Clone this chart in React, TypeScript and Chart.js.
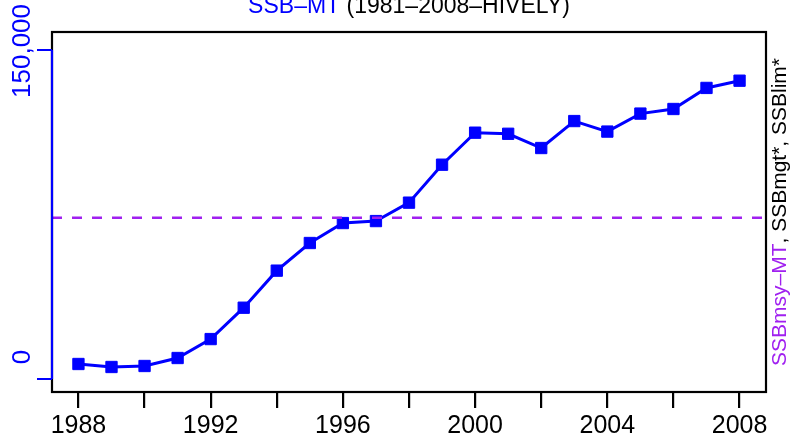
import React, { useEffect, useRef } from "react";
import { Chart, registerables } from "chart.js";

Chart.register(...registerables);

const YEARS = [1988, 1989, 1990, 1991, 1992, 1993, 1994, 1995, 1996, 1997, 1998, 1999, 2000, 2001, 2002, 2003, 2004, 2005, 2006, 2007, 2008];
const SSB_MT = [6840, 5470, 5930, 9570, 18200, 32500, 49400, 62000, 71100, 72000, 80400, 97700, 112300, 111800, 105300, 117600, 112800, 121000, 123100, 132700, 136000];
const SSB_MSY = 73500;
const X_MIN = 1987.2;
const X_MAX = 2008.8;
const Y_MIN = -5930;
const Y_MAX = 158200;
const X_TICKS = [1988, 1990, 1992, 1994, 1996, 1998, 2000, 2002, 2004, 2006, 2008];
const X_LABELS = ["1988", "1992", "1996", "2000", "2004", "2008"];
const Y_TICKS = [0, 150000];
const Y_LABELS = ["0", "150,000"];
const TITLE_MAIN = "SSB\u2013MT";
const TITLE_SUB = " (1981\u20132008\u2013HIVELY)";
const RIGHT_LABEL_1 = "SSBmsy\u2013MT";
const RIGHT_LABEL_2 = ", SSBmgt*, SSBlim*";

const FONT = "'Liberation Sans', Arial, Helvetica, sans-serif";
const BLUE = "#0000FF";
const PURPLE = "#A020F0";

const decorPlugin = {
  id: "decor",
  afterDatasetsDraw(chart: any) {
    const { ctx, chartArea } = chart;
    const { left, right, top, bottom } = chartArea;
    const yScale = chart.scales.y;
    ctx.save();
    // box
    ctx.strokeStyle = "#000";
    ctx.lineWidth = 2.2;
    ctx.strokeRect(left, top, right - left, bottom - top);

    // left blue axis
    const yTop = yScale.getPixelForValue(Y_TICKS[Y_TICKS.length - 1]);
    const yBot = yScale.getPixelForValue(Y_TICKS[0]);
    ctx.strokeStyle = BLUE;
    ctx.lineWidth = 2.2;
    ctx.beginPath();
    ctx.moveTo(left, yTop);
    ctx.lineTo(left, yBot);
    Y_TICKS.forEach((v) => {
      const p = yScale.getPixelForValue(v);
      ctx.moveTo(left - 15, p);
      ctx.lineTo(left, p);
    });
    ctx.stroke();

    // left labels
    ctx.fillStyle = BLUE;
    ctx.font = `26px ${FONT}`;
    ctx.textAlign = "center";
    ctx.textBaseline = "middle";
    Y_TICKS.forEach((v, i) => {
      const p = yScale.getPixelForValue(v) + (i === 0 ? -22 : 1);
      ctx.save();
      ctx.translate(left - 29, p);
      ctx.rotate(-Math.PI / 2);
      ctx.fillText(Y_LABELS[i], 0, 0);
      ctx.restore();
    });

    // title
    ctx.font = `23px ${FONT}`;
    ctx.textAlign = "left";
    ctx.textBaseline = "alphabetic";
    const w1 = ctx.measureText(TITLE_MAIN).width;
    const w2 = ctx.measureText(TITLE_SUB).width;
    const cx = (left + right) / 2;
    const tx = cx - (w1 + w2) / 2;
    const ty = top - 19;
    ctx.fillStyle = BLUE;
    ctx.fillText(TITLE_MAIN, tx, ty);
    ctx.fillStyle = "#000";
    ctx.fillText(TITLE_SUB, tx + w1, ty);

    // right label
    ctx.font = `21px ${FONT}`;
    ctx.textBaseline = "middle";
    const r1 = ctx.measureText(RIGHT_LABEL_1).width;
    const r2 = ctx.measureText(RIGHT_LABEL_2).width;
    ctx.save();
    ctx.translate(right + 14, (top + bottom) / 2);
    ctx.rotate(-Math.PI / 2);
    const sx = -(r1 + r2) / 2;
    ctx.fillStyle = PURPLE;
    ctx.fillText(RIGHT_LABEL_1, sx, 0);
    ctx.fillStyle = "#000";
    ctx.fillText(RIGHT_LABEL_2, sx + r1, 0);
    ctx.restore();

    ctx.restore();
  },
};

export default function App() {
  const ref = useRef<HTMLCanvasElement | null>(null);
  useEffect(() => {
    if (!ref.current) return;
    const chart = new Chart(ref.current, {
      type: "scatter",
      data: {
        datasets: [
          {
            data: [
              { x: X_MIN, y: SSB_MSY },
              { x: X_MAX, y: SSB_MSY },
            ],
            showLine: true,
            borderColor: PURPLE,
            borderWidth: 2.5,
            borderDash: [10, 10],
            pointRadius: 0,
          },
          {
            data: YEARS.map((yr, i) => ({ x: yr, y: SSB_MT[i] })),
            showLine: true,
            borderColor: BLUE,
            backgroundColor: BLUE,
            borderWidth: 3,
            pointStyle: "rect",
            pointRadius: 8,
            pointBorderWidth: 1,
            pointBorderColor: BLUE,
            pointBackgroundColor: BLUE,
          },
        ],
      },
      plugins: [decorPlugin],
      options: {
        animation: false,
        responsive: false,
        events: [],
        layout: { padding: { left: 52, right: 35, top: 32, bottom: 0 } },
        plugins: { legend: { display: false }, tooltip: { enabled: false }, title: { display: false } },
        scales: {
          x: {
            type: "linear",
            min: X_MIN,
            max: X_MAX,
            afterBuildTicks: (scale: any) => {
              scale.ticks = X_TICKS.map((v) => ({ value: v }));
            },
            afterFit: (scale: any) => {
              scale.height = 53;
            },
            ticks: {
              autoSkip: false,
              maxRotation: 0,
              minRotation: 0,
              padding: 3,
              color: "#000",
              font: { family: FONT, size: 25 },
              callback: (v: any) => (X_LABELS.includes(String(v)) ? String(v) : ""),
            },
            grid: {
              display: true,
              drawOnChartArea: false,
              drawTicks: true,
              tickLength: 16,
              color: "#000",
              lineWidth: 2.2,
            },
            border: { display: false },
          },
          y: {
            type: "linear",
            display: false,
            min: Y_MIN,
            max: Y_MAX,
          },
        },
      },
    });
    return () => chart.destroy();
  }, []);
  return (
    <div style={{ position: "fixed", left: 0, top: 0, width: 801, height: 445, background: "#fff" }}>
      <canvas ref={ref} width={801} height={445} style={{ display: "block" }} />
    </div>
  );
}
